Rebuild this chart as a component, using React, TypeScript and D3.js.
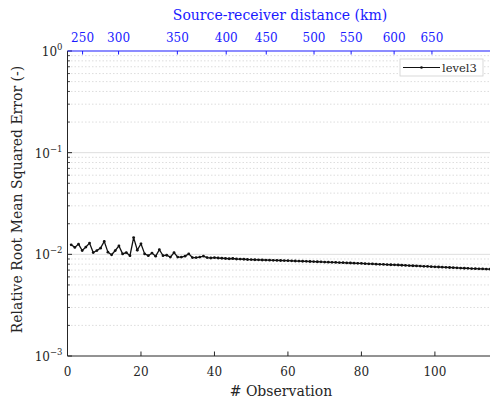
import React from "react";
import * as d3 from "d3";

// ---- data ----
const rrmse: number[] = [
  0.0124, 0.0117, 0.0126, 0.0109, 0.0118, 0.0129, 0.0104, 0.0109, 0.0115, 0.0134,
  0.0105, 0.0099, 0.0109, 0.0121, 0.0101, 0.0104, 0.0097, 0.0146, 0.0110, 0.0127,
  0.0101, 0.0097, 0.0103, 0.0096, 0.0111, 0.0097, 0.0098, 0.0094, 0.0104, 0.0094,
  0.0094, 0.0096, 0.0101, 0.0093, 0.0093, 0.0094, 0.0096, 0.0093, 0.0092, 0.0093,
  0.0092, 0.00915, 0.0091, 0.00905, 0.0091, 0.0090, 0.00898, 0.00895, 0.0089, 0.00888,
  0.00885, 0.00883, 0.0088, 0.00878, 0.00876, 0.00874, 0.00872, 0.0087, 0.00868, 0.00866,
  0.00864, 0.0086, 0.00858, 0.00855, 0.00853, 0.0085, 0.00848, 0.00845, 0.00843, 0.0084,
  0.00838, 0.00835, 0.00832, 0.0083, 0.00827, 0.00824, 0.00822, 0.00818, 0.00815, 0.00813,
  0.0081, 0.00807, 0.00804, 0.00801, 0.00798, 0.00796, 0.00793, 0.0079, 0.00788, 0.00785,
  0.00781, 0.00778, 0.00775, 0.00772, 0.00769, 0.00766, 0.00763, 0.0076, 0.00757, 0.00754,
  0.00751, 0.00748, 0.00745, 0.00742, 0.00739, 0.00736, 0.00733, 0.0073, 0.00728, 0.00725,
  0.00722, 0.0072, 0.00718, 0.00716, 0.00714,
];
const xTicks: number[] = [0, 20, 40, 60, 80, 100];
const yDecades: number[] = [0, -1, -2, -3];
const topTickLabels: number[] = [250, 300, 350, 400, 450, 500, 550, 600, 650];
const topTickObs: number[] = [4.1, 13.9, 29.9, 43.2, 54.1, 67.1, 77.2, 88.9, 99.2];
const seriesName = "level3";
const xLabel = "# Observation";
const yLabel = "Relative Root Mean Squared Error (-)";
const topLabel = "Source-receiver distance (km)";

const W = 490, H = 402;
const M = { left: 67.5, right: 490, top: 51, bottom: 356 };
const FONT = "DejaVu Serif, Liberation Serif, serif";
const BLUE = "#1a1aff";

export default function App() {
  const x = d3.scaleLinear().domain([0, 115]).range([M.left, M.right]);
  const y = d3.scaleLog().domain([1e-3, 1]).range([M.bottom, M.top]);
  const pts = rrmse.map((v, i) => [i + 1, v] as [number, number]);
  const line = d3.line<[number, number]>().x(d => x(d[0])).y(d => y(d[1]));

  const minors: number[] = [];
  for (let e = -3; e < 0; e++) for (let k = 2; k <= 9; k++) minors.push(k * Math.pow(10, e));

  const lg = { x0: 400, y0: 59, x1: 483, y1: 76 };

  return (
    <svg width={W} height={H} style={{ position: "absolute", left: 0, top: 0, background: "#fff", fontFamily: FONT }}>
      <rect x={0} y={0} width={W} height={H} fill="#fff" />
      {/* grid */}
      {minors.map((v, i) => (
        <line key={"mg" + i} x1={M.left} x2={M.right} y1={y(v)} y2={y(v)} stroke="#d4d4d4" strokeWidth={0.8} strokeDasharray="1.5,2" />
      ))}
      {yDecades.filter(e => e < 0 && e > -3).map(e => (
        <line key={"Mg" + e} x1={M.left} x2={M.right} y1={y(Math.pow(10, e))} y2={y(Math.pow(10, e))} stroke="#dedede" strokeWidth={1} />
      ))}
      {/* data */}
      <path d={line(pts) || ""} fill="none" stroke="#111" strokeWidth={1.3} />
      {pts.map((p, i) => (
        <circle key={"p" + i} cx={x(p[0])} cy={y(p[1])} r={1.4} fill="#111" />
      ))}
      {/* left axis */}
      <line x1={M.left} x2={M.left} y1={M.top} y2={M.bottom} stroke="#262626" strokeWidth={1} />
      {minors.map((v, i) => (
        <line key={"mt" + i} x1={M.left} x2={M.left + 2.5} y1={y(v)} y2={y(v)} stroke="#262626" strokeWidth={0.8} />
      ))}
      {yDecades.map(e => (
        <g key={"yt" + e}>
          <line x1={M.left} x2={M.left + 4.5} y1={y(Math.pow(10, e))} y2={y(Math.pow(10, e))} stroke="#262626" />
          <text x={M.left - 5} y={y(Math.pow(10, e)) + 5} textAnchor="end" fontSize={12} fill="#262626">
            10<tspan fontSize={8.5} dy={-6}>{e === 0 ? "0" : "\u2212" + Math.abs(e)}</tspan>
          </text>
        </g>
      ))}
      {/* bottom axis */}
      <line x1={M.left} x2={M.right} y1={M.bottom} y2={M.bottom} stroke="#262626" strokeWidth={1} />
      {xTicks.map(t => (
        <g key={"xt" + t}>
          <line x1={x(t)} x2={x(t)} y1={M.bottom} y2={M.bottom - 4.5} stroke="#262626" />
          <text x={x(t)} y={M.bottom + 20} textAnchor="middle" fontSize={12} fill="#262626">{t}</text>
        </g>
      ))}
      {/* top axis */}
      <line x1={M.left} x2={M.right} y1={M.top} y2={M.top} stroke={BLUE} strokeWidth={1.2} />
      {topTickObs.map((o, i) => (
        <g key={"tt" + i}>
          <line x1={x(o)} x2={x(o)} y1={M.top} y2={M.top + 3.5} stroke={BLUE} />
          <text x={x(o)} y={M.top - 9} textAnchor="middle" fontSize={12} fill={BLUE}>{topTickLabels[i]}</text>
        </g>
      ))}
      <text x={280} y={20} textAnchor="middle" fontSize={14} fill={BLUE}>{topLabel}</text>
      {/* labels */}
      <text x={281} y={396} textAnchor="middle" fontSize={14} fill="#262626">{xLabel}</text>
      <text transform={`translate(22,${(M.top + M.bottom) / 2 - 4}) rotate(-90)`} textAnchor="middle" fontSize={14} fill="#262626">{yLabel}</text>
      {/* legend */}
      <rect x={lg.x0} y={lg.y0} width={lg.x1 - lg.x0} height={lg.y1 - lg.y0} fill="#fff" stroke="#d0d0d0" strokeWidth={0.8} />
      <line x1={lg.x0 + 3} x2={lg.x0 + 40} y1={(lg.y0 + lg.y1) / 2} y2={(lg.y0 + lg.y1) / 2} stroke="#111" strokeWidth={1.1} />
      <circle cx={lg.x0 + 21.5} cy={(lg.y0 + lg.y1) / 2} r={1.3} fill="#111" />
      <text x={lg.x0 + 42} y={(lg.y0 + lg.y1) / 2 + 4} fontSize={11.5} fill="#262626">{seriesName}</text>
    </svg>
  );
}
